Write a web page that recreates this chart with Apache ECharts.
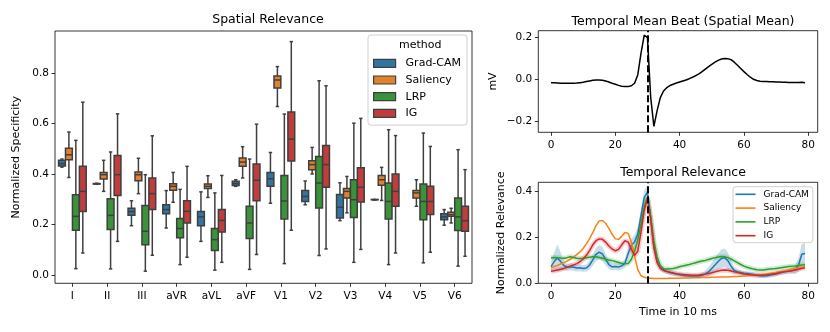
<!DOCTYPE html>
<html><head><meta charset="utf-8">
<script src="https://cdn.jsdelivr.net/npm/echarts@6/dist/echarts.min.js"></script>
<style>html,body{margin:0;padding:0;background:#fff}#c{width:830px;height:332px}</style>
</head><body><div id="c"></div>
<script>
// ---------- data ----------
const leads = ['I','II','III','aVR','aVL','aVF','V1','V2','V3','V4','V5','V6'];
const methods = ['Grad-CAM','Saliency','LRP','IG'];
// [min, q1, median, q3, max] per lead ('-' = not drawn)
const gradcamBox = [
  [0.428,0.432,0.442,0.455,0.460],[0.360,0.361,0.362,0.363,0.364],[0.196,0.237,0.252,0.265,0.295],
  [0.187,0.243,0.260,0.279,0.335],[0.134,0.196,0.231,0.252,0.330],[0.352,0.355,0.363,0.372,0.378],
  [0.285,0.352,0.382,0.407,0.486],[0.279,0.292,0.312,0.335,0.373],[0.216,0.227,0.269,0.320,0.366],
  [0.298,0.299,0.299,0.300,0.300],'-',[0.198,0.220,0.231,0.243,0.260]];
const saliencyBox = [
  [0.387,0.457,0.477,0.503,0.567],[0.332,0.381,0.398,0.407,0.455],[0.323,0.374,0.398,0.409,0.463],
  [0.289,0.336,0.352,0.362,0.407],[0.308,0.343,0.352,0.361,0.394],[0.385,0.431,0.448,0.464,0.509],
  [0.668,0.741,0.773,0.789,0.826],[0.401,0.418,0.438,0.453,0.506],[0.247,0.306,0.332,0.343,0.391],
  [0.296,0.356,0.378,0.395,0.427],[0.273,0.306,0.326,0.335,0.378],[0.207,0.233,0.240,0.249,0.265]];
const lrpBox = [
  [0.026,0.178,0.233,0.319,0.534],[0.025,0.181,0.237,0.303,0.488],[0.016,0.121,0.174,0.276,0.398],
  [0.042,0.148,0.185,0.225,0.340],[0.020,0.098,0.141,0.185,0.326],[0.023,0.145,0.207,0.273,0.460],
  [0.046,0.223,0.294,0.395,0.638],[0.078,0.266,0.365,0.470,0.770],[0.051,0.229,0.299,0.378,0.602],
  [0.042,0.223,0.292,0.365,0.576],[0.049,0.220,0.292,0.361,0.563],[0.036,0.177,0.231,0.306,0.497]];
const igBox = [
  [0.088,0.252,0.332,0.431,0.685],[0.134,0.316,0.398,0.474,0.639],[0.079,0.260,0.323,0.385,0.552],
  [0.071,0.207,0.253,0.295,0.431],[0.051,0.171,0.217,0.260,0.395],[0.082,0.295,0.376,0.440,0.598],
  [0.178,0.452,0.539,0.646,0.925],[0.104,0.348,0.438,0.514,0.750],[0.102,0.290,0.348,0.426,0.621],
  [0.088,0.273,0.332,0.401,0.553],[0.091,0.240,0.292,0.352,0.510],[0.075,0.174,0.216,0.273,0.418]];

const timeSteps = Array.from({length: 80}, (_, i) => i);
const meanBeat = [
  -0.016,-0.017,-0.018,-0.019,-0.019,-0.019,-0.019,-0.019,-0.018,-0.016,
  -0.014,-0.011,-0.008,-0.005,-0.003,-0.003,-0.005,-0.008,-0.013,-0.019,
  -0.024,-0.029,-0.033,-0.035,-0.035,-0.031,-0.019,0.022,0.125,0.212,
  0.200,-0.085,-0.226,-0.150,-0.088,-0.056,-0.040,-0.030,-0.024,-0.018,
  -0.013,-0.008,-0.003,0.003,0.010,0.018,0.026,0.037,0.049,0.061,
  0.072,0.082,0.091,0.097,0.100,0.099,0.094,0.082,0.067,0.052,
  0.037,0.023,0.010,0.000,-0.006,-0.009,-0.010,-0.011,-0.012,-0.012,
  -0.013,-0.013,-0.014,-0.014,-0.015,-0.015,-0.015,-0.015,-0.014,-0.016];
const gradcamRel = [
  0.073,0.095,0.110,0.095,0.078,0.070,0.072,0.070,0.067,0.068,
  0.065,0.067,0.080,0.102,0.126,0.136,0.128,0.104,0.082,0.072,
  0.073,0.071,0.076,0.088,0.130,0.165,0.182,0.215,0.295,0.375,
  0.398,0.290,0.160,0.095,0.066,0.056,0.051,0.047,0.044,0.040,
  0.037,0.035,0.033,0.032,0.032,0.032,0.032,0.035,0.041,0.050,
  0.065,0.080,0.095,0.108,0.112,0.099,0.075,0.056,0.051,0.047,
  0.044,0.043,0.041,0.038,0.035,0.033,0.032,0.033,0.035,0.038,
  0.041,0.045,0.048,0.051,0.054,0.057,0.061,0.080,0.127,0.130];
const gradcamSpread = [
  0.020,0.040,0.060,0.040,0.020,0.015,0.015,0.015,0.015,0.015,
  0.015,0.015,0.020,0.025,0.030,0.030,0.030,0.025,0.020,0.015,
  0.015,0.015,0.015,0.020,0.030,0.030,0.030,0.030,0.030,0.030,
  0.030,0.025,0.020,0.015,0.010,0.010,0.010,0.010,0.010,0.010,
  0.010,0.010,0.010,0.010,0.010,0.010,0.010,0.010,0.015,0.020,
  0.025,0.030,0.035,0.040,0.040,0.035,0.025,0.015,0.010,0.010,
  0.010,0.010,0.010,0.010,0.010,0.010,0.010,0.010,0.010,0.010,
  0.010,0.010,0.010,0.010,0.010,0.015,0.020,0.030,0.045,0.045];
const saliencyRel = [
  0.068,0.073,0.078,0.084,0.090,0.097,0.105,0.114,0.125,0.137,
  0.152,0.172,0.195,0.222,0.252,0.272,0.274,0.262,0.240,0.214,
  0.194,0.192,0.205,0.222,0.218,0.180,0.118,0.060,0.033,0.026,
  0.023,0.022,0.021,0.021,0.021,0.021,0.021,0.022,0.022,0.022,
  0.022,0.023,0.023,0.023,0.024,0.024,0.024,0.025,0.025,0.025,
  0.026,0.026,0.027,0.027,0.028,0.028,0.029,0.030,0.030,0.031,
  0.032,0.033,0.034,0.035,0.036,0.037,0.039,0.041,0.043,0.045,
  0.047,0.050,0.052,0.055,0.058,0.061,0.064,0.067,0.070,0.073];
const lrpRel = [
  0.112,0.113,0.112,0.110,0.109,0.112,0.116,0.113,0.109,0.108,
  0.109,0.112,0.114,0.116,0.116,0.113,0.109,0.105,0.102,0.099,
  0.095,0.091,0.087,0.085,0.086,0.105,0.140,0.190,0.260,0.335,
  0.375,0.290,0.185,0.115,0.078,0.064,0.062,0.063,0.065,0.068,
  0.072,0.076,0.079,0.082,0.086,0.090,0.094,0.097,0.100,0.104,
  0.108,0.112,0.115,0.117,0.116,0.112,0.106,0.098,0.090,0.082,
  0.075,0.070,0.066,0.062,0.059,0.058,0.058,0.060,0.062,0.063,
  0.065,0.067,0.069,0.071,0.073,0.075,0.076,0.078,0.080,0.081];
const igRel = [
  0.052,0.055,0.058,0.061,0.065,0.070,0.075,0.080,0.086,0.094,
  0.106,0.122,0.143,0.168,0.186,0.194,0.192,0.180,0.163,0.150,
  0.142,0.148,0.168,0.186,0.180,0.148,0.122,0.140,0.225,0.320,
  0.370,0.280,0.155,0.090,0.066,0.058,0.052,0.048,0.045,0.042,
  0.040,0.038,0.037,0.036,0.035,0.035,0.036,0.038,0.040,0.043,
  0.046,0.050,0.054,0.057,0.058,0.057,0.054,0.050,0.047,0.044,
  0.041,0.039,0.037,0.036,0.035,0.035,0.036,0.037,0.039,0.041,
  0.043,0.046,0.049,0.051,0.053,0.055,0.058,0.061,0.065,0.068];
const leftYTicks = [0, 0.2, 0.4, 0.6, 0.8];
const beatYTicks = [-0.2, 0, 0.2];
const relYTicks = [0, 0.2, 0.4];
const timeTicks = [0, 20, 40, 60, 80];
const markerTime = 30;

// ---------- styling ----------
const FONT = 'DejaVu Sans';
const boxColors = ['#3274a1', '#e1812c', '#3a923a', '#c03d3e'];
const lineColors = ['#1f77b4', '#ff7f0e', '#2ca02c', '#d62728'];
const edge = '#3f3f3f';
const hueOffsets = [-0.3, -0.1, 0.1, 0.3];   // fraction of category band
const boxFrac = 0.196;                        // box width as fraction of band

const chart = echarts.init(document.getElementById('c'), null, {renderer: 'canvas'});

function fmt(v) { return v < 0 ? '\u2212' + Math.abs(v).toFixed(1) : v.toFixed(1); }

const tickStyle = {show: true, length: 3.5, lineStyle: {color: '#000', width: 0.8}};
const labelBase = {color: '#000', fontFamily: 'DejaVu Sans', fontSize: 10.5};
function valueAxis(gi, min, max, ticks, extra, labelExtra) {
  return Object.assign({
    type: 'value', gridIndex: gi, min: min, max: max,
    axisLine: {show: false, onZero: false},
    axisTick: Object.assign({customValues: ticks}, tickStyle),
    axisLabel: Object.assign({customValues: ticks, formatter: fmt, margin: 6}, labelBase, labelExtra || {}),
    splitLine: {show: false}
  }, extra || {});
}

const boxSets = [gradcamBox, saliencyBox, lrpBox, igBox];
const series = [];
boxSets.forEach((d, si) => {
  const data = [];
  d.forEach((b, ci) => { if (Array.isArray(b)) data.push([ci].concat(b)); });
  series.push({
    type: 'custom', name: methods[si], xAxisIndex: 0, yAxisIndex: 0, silent: true,
    itemStyle: {color: boxColors[si]},
    data: data, encode: {x: 0, y: [1, 2, 3, 4, 5]},
    renderItem: function (params, api) {
      const ci = api.value(0);
      const bw = api.size([1, 0])[0];
      const cx = api.coord([ci, 0])[0] + hueOffsets[si] * bw;
      const w = bw * boxFrac;
      const y = [1, 2, 3, 4, 5].map(k => api.coord([ci, api.value(k)])[1]);
      const ls = {stroke: edge, lineWidth: 1.5, fill: null};
      return {
        type: 'group',
        children: [
          {type: 'line', shape: {x1: cx, y1: y[1], x2: cx, y2: y[0]}, style: ls},
          {type: 'line', shape: {x1: cx, y1: y[3], x2: cx, y2: y[4]}, style: ls},
          {type: 'line', shape: {x1: cx - w / 4, y1: y[0], x2: cx + w / 4, y2: y[0]}, style: ls},
          {type: 'line', shape: {x1: cx - w / 4, y1: y[4], x2: cx + w / 4, y2: y[4]}, style: ls},
          {type: 'rect', shape: {x: cx - w / 2, y: y[3], width: w, height: y[1] - y[3]},
           style: {fill: boxColors[si], stroke: edge, lineWidth: 1.5}},
          {type: 'line', shape: {x1: cx - w / 2, y1: y[2], x2: cx + w / 2, y2: y[2]}, style: ls}
        ]
      };
    }
  });
});

function band(lo, hi, color, xi, yi) {
  const data = timeSteps.map((t, i) => [t, lo[i], hi[i]]);
  return {
    type: 'custom', xAxisIndex: xi, yAxisIndex: yi, silent: true, z: 1,
    data: data, encode: {x: 0, y: [1, 2]},
    renderItem: function (params, api) {
      if (params.dataIndex !== 0) return;
      const pts = [];
      for (let i = 0; i < data.length; i++) pts.push(api.coord([data[i][0], data[i][2]]));
      for (let i = data.length - 1; i >= 0; i--) pts.push(api.coord([data[i][0], data[i][1]]));
      return {type: 'polygon', shape: {points: pts}, style: {fill: color, opacity: 0.25}};
    }
  };
}
series.push(band(gradcamRel.map((v, i) => v - gradcamSpread[i]), gradcamRel.map((v, i) => v + gradcamSpread[i]), lineColors[0], 2, 2));

[[lrpRel, 2], [igRel, 3]].forEach(([arr, ci]) => {
  series.push({
    type: 'line', xAxisIndex: 2, yAxisIndex: 2, data: timeSteps.map((t, i) => [t, arr[i]]),
    symbol: 'none', silent: true, z: 1,
    lineStyle: {color: lineColors[ci], width: 5, opacity: 0.22}
  });
});

const rels = [gradcamRel, saliencyRel, lrpRel, igRel];
rels.forEach((arr, i) => {
  series.push({
    type: 'line', name: methods[i] + ' ', xAxisIndex: 2, yAxisIndex: 2,
    data: timeSteps.map((t, k) => [t, arr[k]]),
    symbol: 'none', silent: true, z: 3,
    lineStyle: {color: lineColors[i], width: 1.5}, itemStyle: {color: lineColors[i]},
    markLine: i === 0 ? {
      symbol: 'none', silent: true, label: {show: false}, animation: false,
      lineStyle: {color: '#000', type: [7, 3], width: 2}, data: [{xAxis: markerTime}]
    } : undefined
  });
});

series.push({
  type: 'line', xAxisIndex: 1, yAxisIndex: 1,
  data: timeSteps.map((t, k) => [t, meanBeat[k]]),
  symbol: 'none', silent: true,
  lineStyle: {color: '#000', width: 1.5},
  markLine: {
    symbol: 'none', silent: true, label: {show: false}, animation: false,
    lineStyle: {color: '#000', type: [7, 3], width: 2}, data: [{xAxis: markerTime}]
  }
});

const titleStyle = {fontFamily: FONT, fontSize: 12.5, fontWeight: 'normal', color: '#000'};
const nameStyle = {color: '#000', fontFamily: FONT, fontSize: 11};
const option = {
  animation: false,
  backgroundColor: '#fff',
  textStyle: {fontFamily: FONT},
  title: [
    {text: 'Spatial Relevance', left: 263, top: 8, textAlign: 'center', textStyle: titleStyle},
    {text: 'Temporal Mean Beat (Spatial Mean)', left: 678, top: 10, textAlign: 'center', textStyle: titleStyle},
    {text: 'Temporal Relevance', left: 678, top: 161, textAlign: 'center', textStyle: titleStyle}
  ],
  grid: [
    {left: 55, top: 31, width: 417, height: 252.3, show: true, borderColor: '#000', borderWidth: 0.8, backgroundColor: 'transparent'},
    {left: 538.3, top: 30.7, width: 279.4, height: 101.6, show: true, borderColor: '#000', borderWidth: 0.8, backgroundColor: 'transparent'},
    {left: 538.3, top: 182.3, width: 279.4, height: 101, show: true, borderColor: '#000', borderWidth: 0.8, backgroundColor: 'transparent'}
  ],
  xAxis: [
    {type: 'category', gridIndex: 0, data: leads, boundaryGap: true,
     axisLine: {show: false, onZero: false}, axisTick: Object.assign({alignWithLabel: true}, tickStyle),
     axisLabel: Object.assign({margin: 7, interval: 0}, labelBase), splitLine: {show: false}},
    valueAxis(1, -3.95, 82.95, timeTicks, {}, {formatter: null, margin: 7}),
    valueAxis(2, -3.95, 82.95, timeTicks, {name: 'Time in 10 ms', nameLocation: 'middle', nameGap: 23, nameTextStyle: nameStyle},
      {formatter: null, margin: 7})
  ],
  yAxis: [
    valueAxis(0, -0.032, 0.967, leftYTicks, {name: 'Normalized Specificity', nameLocation: 'middle', nameGap: 31, nameRotate: 90, nameTextStyle: nameStyle}),
    valueAxis(1, -0.254, 0.233, beatYTicks, {name: 'mV', nameLocation: 'middle', nameGap: 40, nameRotate: 90, nameTextStyle: nameStyle}),
    valueAxis(2, 0, 0.441, relYTicks, {name: 'Normalized Relevance', nameLocation: 'middle', nameGap: 32, nameRotate: 90, nameTextStyle: nameStyle})
  ],
  legend: [
    {data: methods.map((m, i) => ({name: m, itemStyle: {color: boxColors[i], borderColor: edge, borderWidth: 1.2}})),
     left: 368, top: 35, orient: 'vertical', icon: 'rect', itemWidth: 22, itemHeight: 8, itemGap: 4.7,
     padding: [22.3, 6, 5.7, 5], backgroundColor: '#fff', borderColor: '#d0d0d0', borderWidth: 1, borderRadius: 3,
     selectedMode: false, textStyle: {color: '#000', fontFamily: FONT, fontSize: 11, lineHeight: 12, padding: [0, 0, 0, 5]}},
    {data: methods.map((m, i) => ({name: m + ' ', itemStyle: {color: lineColors[i]}})), formatter: n => n.trim(),
     left: 733, top: 186.7, orient: 'vertical', icon: 'rect', itemWidth: 20, itemHeight: 1.6,
     itemGap: 3.8, padding: [2.6, 4, 2, 2.5], backgroundColor: 'rgba(255,255,255,0.8)', borderColor: '#d0d0d0', borderWidth: 1, borderRadius: 3,
     selectedMode: false, textStyle: {color: '#000', fontFamily: FONT, fontSize: 9, lineHeight: 10, padding: [0, 0, 0, 3]}}
  ],
  graphic: [
    {type: 'text', left: 399, top: 40, z: 100, style: {text: 'method', font: '11px "DejaVu Sans"', fill: '#000'}}
  ],
  series: series
};
chart.setOption(option);
</script>
</body></html>
